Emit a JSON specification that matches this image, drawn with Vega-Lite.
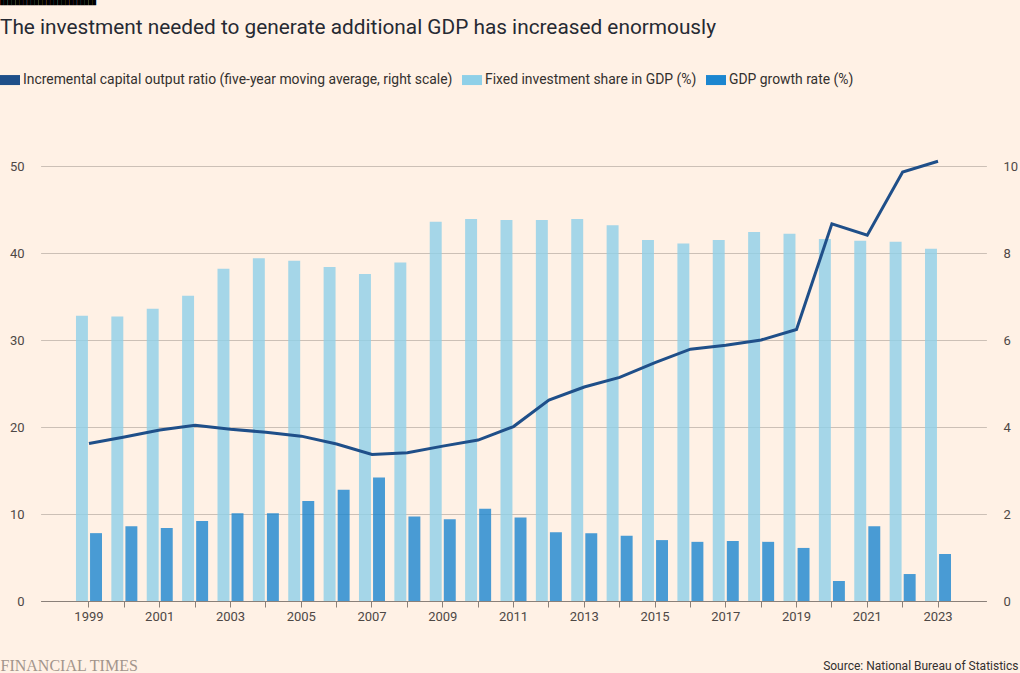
{
  "$schema": "https://vega.github.io/schema/vega-lite/v6.json",
  "width": 955,
  "height": 435,
  "autosize": {"type": "none"},
  "padding": {"left": 36, "top": 166, "right": 29, "bottom": 72},
  "background": "#FFF1E5",
  "title": {
    "text": "█████████████████████████",
    "font": "DejaVu Sans",
    "fontSize": 5,
    "color": "#000000",
    "subtitle": "The investment needed to generate additional GDP has increased enormously",
    "subtitleFont": "Roboto",
    "subtitleFontSize": 20.8,
    "subtitleColor": "#262a33",
    "subtitlePadding": 13,
    "anchor": "start",
    "frame": "group",
    "dx": -36,
    "offset": 32
  },
  "data": {
    "values": [
      {"year": 1999, "fixed": 32.8, "gdp": 7.8, "icor": 3.62},
      {"year": 2000, "fixed": 32.7, "gdp": 8.6, "icor": 3.77},
      {"year": 2001, "fixed": 33.6, "gdp": 8.4, "icor": 3.93},
      {"year": 2002, "fixed": 35.1, "gdp": 9.2, "icor": 4.04},
      {"year": 2003, "fixed": 38.2, "gdp": 10.1, "icor": 3.95},
      {"year": 2004, "fixed": 39.4, "gdp": 10.1, "icor": 3.88},
      {"year": 2005, "fixed": 39.1, "gdp": 11.5, "icor": 3.79},
      {"year": 2006, "fixed": 38.4, "gdp": 12.8, "icor": 3.61},
      {"year": 2007, "fixed": 37.6, "gdp": 14.2, "icor": 3.37},
      {"year": 2008, "fixed": 38.9, "gdp": 9.7, "icor": 3.41},
      {"year": 2009, "fixed": 43.6, "gdp": 9.4, "icor": 3.56},
      {"year": 2010, "fixed": 43.9, "gdp": 10.6, "icor": 3.7},
      {"year": 2011, "fixed": 43.8, "gdp": 9.6, "icor": 4.01},
      {"year": 2012, "fixed": 43.8, "gdp": 7.9, "icor": 4.62},
      {"year": 2013, "fixed": 43.9, "gdp": 7.8, "icor": 4.92},
      {"year": 2014, "fixed": 43.2, "gdp": 7.5, "icor": 5.14},
      {"year": 2015, "fixed": 41.5, "gdp": 7.0, "icor": 5.48},
      {"year": 2016, "fixed": 41.1, "gdp": 6.8, "icor": 5.79},
      {"year": 2017, "fixed": 41.5, "gdp": 6.9, "icor": 5.88},
      {"year": 2018, "fixed": 42.4, "gdp": 6.8, "icor": 6.0},
      {"year": 2019, "fixed": 42.2, "gdp": 6.1, "icor": 6.24},
      {"year": 2020, "fixed": 41.6, "gdp": 2.3, "icor": 8.67},
      {"year": 2021, "fixed": 41.4, "gdp": 8.6, "icor": 8.41},
      {"year": 2022, "fixed": 41.3, "gdp": 3.1, "icor": 9.86},
      {"year": 2023, "fixed": 40.5, "gdp": 5.4, "icor": 10.11}
    ]
  },
  "layer": [
    {
      "transform": [{"fold": ["fixed", "gdp"], "as": ["series", "value"]}],
      "mark": {"type": "bar", "opacity": 0.8},
      "encoding": {
        "x": {
          "field": "year",
          "type": "ordinal",
          "scale": {"paddingInner": 0.265, "paddingOuter": 1, "range": [4.6, 950.4]},
          "axis": {
            "labelExpr": "datum.value % 2 === 1 ? datum.label : ''",
            "labelAngle": 0,
            "labelFontSize": 13,
            "labelColor": "#4e4845",
            "labelPadding": 3,
            "domainColor": "#8a8079",
            "tickColor": "#8a8079",
            "tickSize": 6,
            "tickBand": "center",
            "grid": false,
            "title": "Source: National Bureau of Statistics",
            "titleFontSize": 12,
            "titleFontWeight": "normal",
            "titleColor": "#33302e",
            "titleAnchor": null,
            "titleAlign": "right",
            "titleBaseline": "alphabetic",
            "titleX": 982,
            "titleY": 68
          }
        },
        "xOffset": {"field": "series", "scale": {"paddingInner": 0.15}},
        "y": {
          "field": "value",
          "type": "quantitative",
          "scale": {"domain": [0, 50]},
          "axis": {
            "values": [0, 10, 20, 30, 40, 50],
            "grid": true,
            "gridColor": "#ccc0b6",
            "domain": false,
            "ticks": false,
            "labelFontSize": 13,
            "labelColor": "#4e4845",
            "labelPadding": 12,
            "title": "FINANCIAL TIMES",
            "titleFont": "Liberation Serif",
            "titleFontSize": 16,
            "titleFontWeight": "normal",
            "titleColor": "#a3958c",
            "titleAngle": 0,
            "titleAnchor": null,
            "titleAlign": "left",
            "titleBaseline": "alphabetic",
            "titleX": -36,
            "titleY": 504
          }
        },
        "color": {
          "field": "series",
          "scale": {
            "domain": ["icor", "fixed", "gdp"],
            "range": ["#1f4f89", "#8fd0e8", "#1c86d0"]
          },
          "legend": {
            "orient": "none",
            "legendX": -36,
            "legendY": -96,
            "direction": "horizontal",
            "title": null,
            "symbolType": "M-1,-0.5H1V0.5H-1Z",
            "symbolSize": 400,
            "symbolOpacity": 1,
            "labelFontSize": 13.9,
            "labelColor": "#33302e",
            "labelLimit": 800,
            "labelOffset": 3,
            "columnPadding": 9,
            "labelExpr": "datum.value === 'icor' ? 'Incremental capital output ratio (five-year moving average, right scale)' : datum.value === 'fixed' ? 'Fixed investment share in GDP (%)' : 'GDP growth rate (%)'",
            "encode": {
              "symbols": {
                "update": {
                  "fill": {"scale": "color", "field": "value"},
                  "stroke": {"value": "transparent"},
                  "strokeWidth": {"value": 0},
                  "opacity": {"value": 1},
                  "fillOpacity": {"value": 1}
                }
              }
            }
          }
        }
      }
    },
    {
      "mark": {"type": "line", "strokeWidth": 3},
      "encoding": {
        "x": {"field": "year", "type": "ordinal"},
        "y": {
          "field": "icor",
          "type": "quantitative",
          "scale": {"domain": [0, 10]},
          "axis": {
            "orient": "right",
            "values": [0, 2, 4, 6, 8, 10],
            "grid": false,
            "domain": false,
            "ticks": false,
            "labelFontSize": 13,
            "labelColor": "#4e4845",
            "labelPadding": 12,
            "title": null
          }
        },
        "color": {"datum": "icor"}
      }
    }
  ],
  "resolve": {"scale": {"y": "independent"}},
  "config": {
    "font": "Roboto",
    "view": {"stroke": null}
  }
}
